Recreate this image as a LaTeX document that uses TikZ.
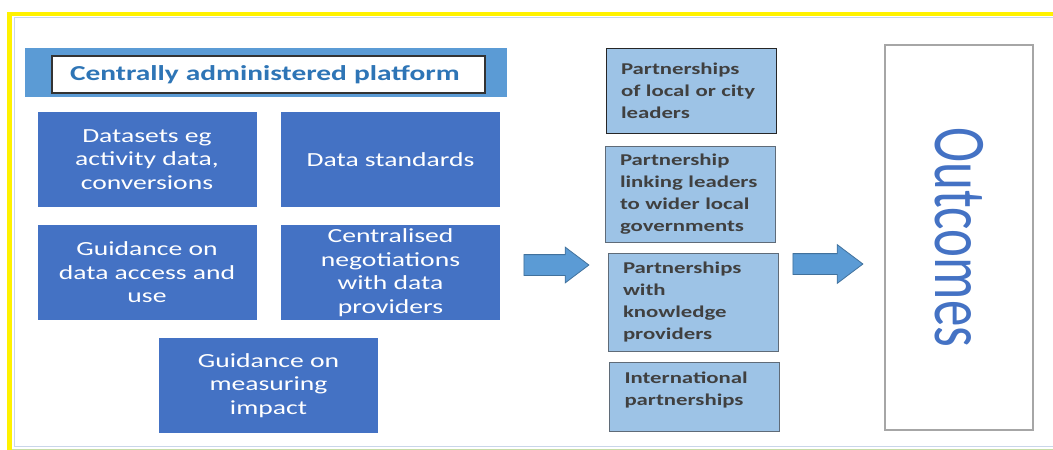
\documentclass[tikz,border=0pt]{standalone}
\usepackage{fontspec}
\setmainfont{Carlito}[FakeStretch=1.38]
\newfontfamily\outfont{Carlito}
\usepackage{tikz}
\usetikzlibrary{shapes.arrows,positioning}

\definecolor{platblue}{HTML}{5B9BD5}
\definecolor{titleblue}{HTML}{2E75B6}
\definecolor{boxblue}{HTML}{4472C4}
\definecolor{partblue}{HTML}{9DC3E6}
\definecolor{partedge}{HTML}{5F6B78}
\definecolor{arrowedge}{HTML}{41719C}
\definecolor{framelight}{HTML}{C9D6EA}
\definecolor{framegreen}{HTML}{C6DDA8}
\definecolor{outedge}{HTML}{A6A6A6}

\begin{document}
\begin{tikzpicture}[x=1pt,y=-1pt,
  inbox/.style={fill=boxblue,text=white,minimum width=219pt,minimum height=95pt,align=center,font=\fontsize{20}{23.5}\selectfont},
  partbox/.style={fill=partblue,draw=partedge,line width=1pt,inner xsep=15pt,text width=140pt,align=left,text=black!75,font=\bfseries\fontsize{16.5}{22}\selectfont},
  blockarrow/.style={single arrow,fill=platblue,draw=arrowedge,line width=0.8pt,inner xsep=0pt,inner ysep=10pt,single arrow tip angle=74}]
  \useasboundingbox (0,0) rectangle (1053,450);
  % frame
  \draw[framelight,line width=1.5pt] (14.5,446.5) -- (14.5,17.5) -- (1053,17.5);
  \draw[framelight,line width=1.5pt] (14.5,446.5) -- (1053,446.5);
  \draw[framegreen,line width=1.5pt] (12,449.3) -- (1053,449.3);
  \draw[yellow,line width=4.5pt] (9.5,450) -- (9.5,14) -- (1053,14);
  % platform
  \node[fill=platblue,minimum width=482pt,minimum height=49pt] (plat) at (266,72.5) {};
  \node[fill=white,draw=black!80,line width=1.5pt,minimum width=433pt,minimum height=37pt,
        inner xsep=18pt,text width=397pt,align=left,text=titleblue,font=\bfseries\fontsize{21.3}{24}\selectfont]
        (platTitle) at (268.5,74.5) {Centrally administered platform};
  \node[inbox] (dsets) at (147,159.5) {Datasets eg\\activity data,\\conversions};
  \node[inbox] (dstd) at (390.5,159.5) {Data standards};
  \node[inbox] (guideUse) at (147,272.5) {Guidance on\\data access and\\use};
  \node[inbox] (negot) at (390.5,272.5) {Centralised\\negotiations\\with data\\providers};
  \node[inbox] (guideImpact) at (268.5,385.5) {Guidance on\\measuring\\impact};
  % partnerships
  \node[partbox,draw=black!85,minimum height=85pt] (pLocal) at (691,90.5) {Partnerships\\of local or city\\leaders};
  \node[partbox,minimum height=96pt] (pLink) at (690,194) {Partnership\\linking leaders\\to wider local\\governments};
  \node[partbox,minimum height=98pt] (pKnow) at (693,302) {Partnerships\\with\\knowledge\\providers};
  \node[partbox,minimum height=69pt,text depth=37pt] (pIntl) at (694.5,396.5) {International\\partnerships};
  % arrows
  \node[blockarrow,minimum height=65pt,single arrow head extend=7.5pt] (arrIn) at (549.5,265) {};
  \node[blockarrow,minimum height=70pt,single arrow head extend=9pt] (arrOut) at (821,264) {};
  % outcomes
  \node[draw=outedge,fill=white,line width=1.5pt,rotate=-90,minimum width=385pt,minimum height=148pt,
        text=boxblue,font=\outfont\fontsize{53}{60}\selectfont] (outc) at (959,237.5) {\scalebox{1}[1.4]{Outcomes}};
\end{tikzpicture}
\end{document}
